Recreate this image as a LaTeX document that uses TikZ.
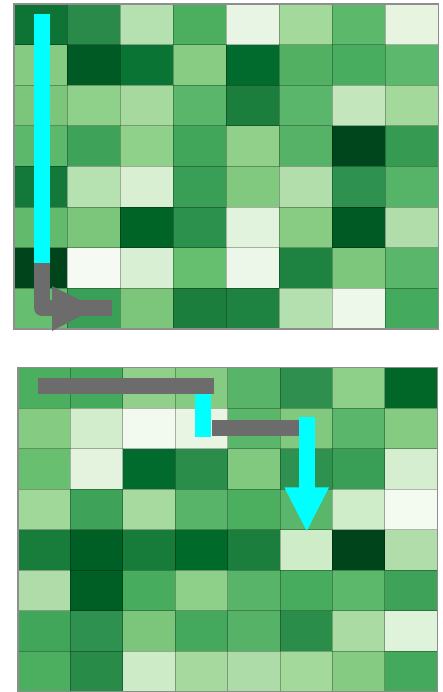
\documentclass[tikz,border=0pt]{standalone}
\usepackage{tikz}
\usetikzlibrary{arrows.meta}
\definecolor{PathGray}{HTML}{6C6C6C}
\definecolor{PathCyan}{HTML}{00FFFF}
\definecolor{FrameGray}{HTML}{8E8E8E}
\tikzset{
  cellline/.style={draw=black, draw opacity=0.28, line width=0.9pt},
  gridframe/.style={draw=FrameGray, line width=1.4pt},
  grayseg/.style={draw=PathGray, line width=16pt, line join=round},
  cyanseg/.style={draw=PathCyan, line width=16pt},
  grayhead/.style={fill=PathGray},
  cyanhead/.style={fill=PathCyan}
}

\begin{document}
\begin{tikzpicture}[x=1pt, y=-1pt]
\useasboundingbox (0,0) rectangle (442,692);

% upper map
\begin{scope}[shift={(14,4)}, x=53.06pt, y=-40.6pt]
\foreach \r/\cols in {
  0/{0D7436,2A8A4A,B5E0B0,4CAF60,E8F5E4,A3D99B,5CB96B,E6F4E0},
  1/{85CC82,005A24,0A7434,88CC84,006B2C,52B062,48AD5E,5CB86C},
  2/{7CC67C,8FD08A,A5D99E,5AB66A,1C7E3C,5AB66A,C3E6BC,A3D99B},
  3/{5CB96B,3EA359,8FD08A,42A65A,90D08A,56B266,00461C,369A52},
  4/{13793A,B6E1B0,D8EFD2,3A9F56,80C97E,B2DEAC,2E9150,56B468},
  5/{62BB6C,7CC67C,006427,2D914E,E2F3DD,88CC84,005A24,B0DDA9},
  6/{00441B,F5FBF2,D8EFD3,66BE6F,EDF7E9,1E8240,7DC77C,5AB66A},
  7/{66BE70,3AA057,7CC67C,1C7E3C,1E8240,B4DFAE,EEF8EA,44AA5E}}{
  \foreach \hex [count=\c from 0] in \cols {
    \definecolor{cellfill}{HTML}{\hex}
    \fill[cellfill] (\c,\r) rectangle ++(1,1);
  }
}
\foreach \i in {1,...,7} {
  \draw[cellline] (\i,0) -- (\i,8);
  \draw[cellline] (0,\i) -- (8,\i);
}
\draw[gridframe] (0,0) rectangle (8,8);
\end{scope}

% lower map
\begin{scope}[shift={(18,367.7)}, x=52.4pt, y=-40.5pt]
\foreach \r/\cols in {
  0/{4CAF60,44AA5C,90D08A,86CB82,58B468,2E8F4E,8ED08A,006729},
  1/{85CC82,D2EDCC,F2F9EF,E8F5E3,5AB66A,80C97E,5AB66A,86CB82},
  2/{68BF70,E3F3DE,006B2C,2A8D4A,80C97E,2E9150,3A9F56,D4EECF},
  3/{A0D89A,3EA359,A7DA9F,58B468,4CAF60,5AB66A,D0EDCA,F3FAF0},
  4/{187C3B,005F25,177B3A,006A2B,1C7E3C,CFECC9,00441B,B0DDA9},
  5/{AFDCA8,005F25,48AC5E,8ECF89,58B468,48AC5E,5CB86B,3EA359},
  6/{42A65A,2E9150,7CC67C,44A95C,56B266,2A8D4A,A9DBA2,DFF2DA},
  7/{4CAF60,288B48,CDEBC7,A5D99E,AEDCA8,A3D99B,86CB82,44A95C}}{
  \foreach \hex [count=\c from 0] in \cols {
    \definecolor{cellfill}{HTML}{\hex}
    \fill[cellfill] (\c,\r) rectangle ++(1,1);
  }
}
\foreach \i in {1,...,7} {
  \draw[cellline] (\i,0) -- (\i,8);
  \draw[cellline] (0,\i) -- (8,\i);
}
\draw[gridframe] (0,0) rectangle (8,8);
\end{scope}

% upper walk
\coordinate (upstart) at (42,14);
\coordinate (upturn) at (42,263);
\coordinate (upcorner) at (42,308);
\coordinate (upend) at (112,308);
\draw[cyanseg] (upstart) -- (upturn);
\draw[grayseg] (upturn) -- (upcorner) -- (upend);
\fill[grayhead] (52,286) -- (96,308) -- (52,331) -- cycle;

% lower walk
\coordinate (lowstart) at (38,386);
\coordinate (lowstep) at (203,386);
\coordinate (lowdrop) at (203,436.7);
\coordinate (lowmid) at (211.5,428);
\coordinate (lowright) at (299,428);
\coordinate (lowdown) at (307,416.7);
\coordinate (lowneck) at (307,487.5);
\draw[grayseg, line join=miter] (lowstart) -- (214,386);
\draw[cyanseg] (203,394) -- (lowdrop);
\draw[grayseg, line join=miter] (lowmid) -- (lowright);
\draw[cyanseg] (lowdown) -- (lowneck);
\fill[cyanhead] (284.3,487.3) -- (329,487.3) -- (306.7,531) -- cycle;
\end{tikzpicture}
\end{document}
